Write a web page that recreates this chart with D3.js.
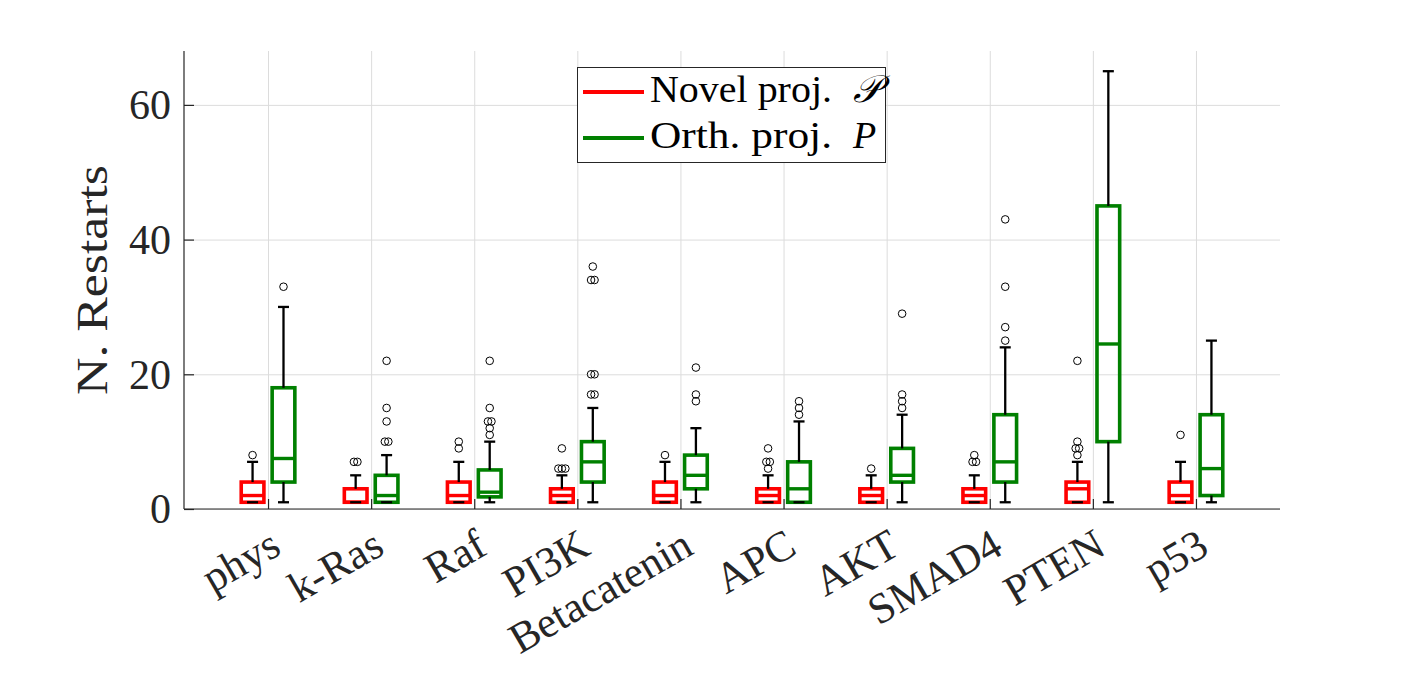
<!DOCTYPE html>
<html>
<head>
<meta charset="utf-8">
<script src="https://cdnjs.cloudflare.com/ajax/libs/d3/7.8.5/d3.min.js"></script>
<style>
  body { margin: 0; background: #fff; }
  text { font-family: "Liberation Serif", "DejaVu Serif", serif; fill: #262626; }
</style>
</head>
<body>
<div id="chart"></div>
<script>
var categories = ["phys", "k-Ras", "Raf", "PI3K", "Betacatenin", "APC", "AKT", "SMAD4", "PTEN", "p53"];

// Novel projection (red)
var novelLow    = [1, 1, 1, 1, 1, 1, 1, 1, 1, 1];
var novelQ1     = [1, 1, 1, 1, 1, 1, 1, 1, 1, 1];
var novelMedian = [2, 1, 2, 2, 2, 2, 2, 2, 3, 2];
var novelQ3     = [4, 3, 4, 3, 4, 3, 3, 3, 4, 4];
var novelHigh   = [7, 5, 7, 5, 7, 5, 5, 5, 7, 7];
var novelOutliers = [[8], [7, 7], [9, 10], [6, 6, 6, 9], [8], [6, 7, 7, 9], [6], [7, 7, 8], [8, 9, 9, 10, 22], [11]];

// Orthogonal projection (green)
var orthLow    = [1, 1, 1, 1, 1, 1, 1, 1, 1, 1];
var orthQ1     = [4, 1, 1.8, 4, 3, 1, 4, 4, 10, 2];
var orthMedian = [7.5, 2, 2.5, 7, 5, 3, 5, 7, 24.5, 6];
var orthQ3     = [18, 5, 5.8, 10, 8, 7, 9, 14, 45, 14];
var orthHigh   = [30, 8, 10, 15, 12, 13, 14, 24, 65, 25];
var orthOutliers = [[33], [10, 10, 13, 15, 22], [11, 12, 13, 13, 15, 22], [17, 17, 20, 20, 34, 34, 36], [16, 17, 21], [14, 15, 16], [15, 16, 17, 29], [25, 27, 33, 43], [], []];

var yTicks = [0, 20, 40, 60];
var seriesNames = ["Novel proj.", "Orth. proj."];
var seriesSymbols = ["\uD835\uDCAB", "P"];
var seriesColors = ["#ff0000", "#008000"];

var w = 1415, h = 674;
var axLeft = 184, axRight = 1280, axTop = 51, axBottom = 509;

var svg = d3.select("#chart")
    .append("svg")
    .attr("width", w)
    .attr("height", h);

var xScale = d3.scaleLinear()
    .domain([0.185, categories.length + 0.815])
    .range([axLeft, axRight]);

var yScale = d3.scaleLinear()
    .domain([0, 68])
    .range([axBottom, axTop]);

var unit = xScale(2) - xScale(1);
var offsets = [-0.15, 0.15];
var boxW = 0.22 * unit;
var capW = 0.107 * unit;

function buildSeries(low, q1, med, q3, high, outl) {
    return categories.map(function(c, i) {
        return {cat: c, i: i, low: low[i], q1: q1[i], med: med[i], q3: q3[i], high: high[i], out: outl[i]};
    });
}
var series = [
    buildSeries(novelLow, novelQ1, novelMedian, novelQ3, novelHigh, novelOutliers),
    buildSeries(orthLow, orthQ1, orthMedian, orthQ3, orthHigh, orthOutliers)
];

// grid
svg.append("g")
    .attr("class", "grid")
    .attr("transform", "translate(0," + axBottom + ")")
    .call(d3.axisBottom(xScale)
        .tickValues(d3.range(1, categories.length + 1))
        .tickSize(-(axBottom - axTop))
        .tickFormat(""))
    .call(function(g) { g.select(".domain").remove(); });

svg.append("g")
    .attr("class", "grid")
    .attr("transform", "translate(" + axLeft + ",0)")
    .call(d3.axisLeft(yScale)
        .tickValues(yTicks)
        .tickSize(-(axRight - axLeft))
        .tickFormat(""))
    .call(function(g) { g.select(".domain").remove(); });

// boxes
series.forEach(function(data, s) {
    var col = seriesColors[s];
    var g = svg.append("g").attr("class", "series" + s);
    var cx = function(d) { return xScale(d.i + 1 + offsets[s]); };

    g.selectAll("rect")
        .data(data)
        .enter()
        .append("rect")
        .attr("x", function(d) { return cx(d) - boxW / 2; })
        .attr("y", function(d) { return yScale(d.q3); })
        .attr("width", boxW)
        .attr("height", function(d) { return yScale(d.q1) - yScale(d.q3); })
        .attr("fill", "none")
        .attr("stroke", col)
        .attr("stroke-width", 3.6);

    g.selectAll("line.med")
        .data(data)
        .enter()
        .append("line")
        .attr("class", "med")
        .attr("x1", function(d) { return cx(d) - boxW / 2; })
        .attr("x2", function(d) { return cx(d) + boxW / 2; })
        .attr("y1", function(d) { return yScale(d.med); })
        .attr("y2", function(d) { return yScale(d.med); })
        .attr("stroke", col)
        .attr("stroke-width", 3.4);

    // whiskers
    var wh = g.selectAll("g.wh")
        .data(data)
        .enter()
        .append("g")
        .attr("class", "wh")
        .attr("stroke", "#000")
        .attr("stroke-width", 2.3);
    wh.append("line")
        .attr("x1", cx).attr("x2", cx)
        .attr("y1", function(d) { return yScale(d.q3); })
        .attr("y2", function(d) { return yScale(d.high); });
    wh.append("line")
        .attr("x1", cx).attr("x2", cx)
        .attr("y1", function(d) { return yScale(d.q1); })
        .attr("y2", function(d) { return yScale(d.low); });
    wh.append("line")
        .attr("x1", function(d) { return cx(d) - capW / 2; })
        .attr("x2", function(d) { return cx(d) + capW / 2; })
        .attr("y1", function(d) { return yScale(d.high); })
        .attr("y2", function(d) { return yScale(d.high); });
    wh.append("line")
        .attr("x1", function(d) { return cx(d) - capW / 2; })
        .attr("x2", function(d) { return cx(d) + capW / 2; })
        .attr("y1", function(d) { return yScale(d.low); })
        .attr("y2", function(d) { return yScale(d.low); });

    // outliers, equal values spread a little sideways
    var pts = [];
    data.forEach(function(d) {
        var counts = d3.rollup(d.out, function(v) { return v.length; }, function(v) { return v; });
        var seen = new Map();
        d.out.forEach(function(v) {
            var n = counts.get(v), k = seen.get(v) || 0;
            seen.set(v, k + 1);
            pts.push({x: cx(d) + (k - (n - 1) / 2) * 3.5, v: v});
        });
    });
    g.selectAll("circle")
        .data(pts)
        .enter()
        .append("circle")
        .attr("cx", function(p) { return p.x; })
        .attr("cy", function(p) { return yScale(p.v); })
        .attr("r", 3.8)
        .attr("fill", "none")
        .attr("stroke", "#000")
        .attr("stroke-width", 1);
});

// axes
var yAxis = svg.append("g")
    .attr("class", "axis")
    .attr("transform", "translate(" + axLeft + ",0)")
    .call(d3.axisRight(yScale).tickValues(yTicks).tickSize(10).tickFormat(""));
yAxis.select(".domain").attr("d", "M0," + axTop + "V" + axBottom);

var xAxis = svg.append("g")
    .attr("class", "axis")
    .attr("transform", "translate(0," + axBottom + ")")
    .call(d3.axisTop(xScale).tickValues(d3.range(1, categories.length + 1)).tickSize(10).tickFormat(""));
xAxis.select(".domain").attr("d", "M" + axLeft + ",0H" + axRight);

svg.selectAll(".axis .domain, .axis .tick line").attr("stroke", "#262626").attr("stroke-width", 1.2);
svg.selectAll(".grid .tick line").attr("stroke", "#dcdcdc").attr("stroke-width", 1);

svg.selectAll("text.ytick")
    .data(yTicks)
    .enter()
    .append("text")
    .attr("class", "ytick")
    .attr("x", 171)
    .attr("y", function(d) { return yScale(d); })
    .attr("dy", "0.34em")
    .attr("text-anchor", "end")
    .style("font-size", "42px")
    .text(function(d) { return d; });

svg.selectAll("text.xtick")
    .data(categories)
    .enter()
    .append("text")
    .attr("class", "xtick")
    .attr("transform", function(d, i) { return "translate(" + (xScale(i + 1) + 15) + ",553) rotate(-30)"; })
    .attr("text-anchor", "end")
    .style("font-size", "43px")
    .text(function(d) { return d; });

svg.append("text")
    .attr("transform", "translate(107," + ((axTop + axBottom) / 2) + ") rotate(-90)")
    .attr("text-anchor", "middle")
    .attr("textLength", 230)
    .attr("lengthAdjust", "spacingAndGlyphs")
    .style("font-size", "44px")
    .text("N. Restarts");

// legend
var leg = svg.append("g");
leg.append("rect")
    .attr("x", 577.5).attr("y", 67.5)
    .attr("width", 308).attr("height", 95)
    .attr("fill", "#fff")
    .attr("stroke", "#262626")
    .attr("stroke-width", 1);
var legY = [92, 138];
seriesNames.forEach(function(name, s) {
    leg.append("line")
        .attr("x1", 583).attr("x2", 644)
        .attr("y1", legY[s]).attr("y2", legY[s])
        .attr("stroke", seriesColors[s])
        .attr("stroke-width", 3.8);
    leg.append("text")
        .attr("x", 650).attr("y", legY[s] + 10)
        .attr("textLength", 182)
        .attr("lengthAdjust", "spacingAndGlyphs")
        .style("font-size", "38px")
        .style("fill", "#000")
        .text(name);
    leg.append("text")
        .attr("x", 853).attr("y", legY[s] + 10)
        .style("font-size", "38px")
        .style("font-style", "italic")
        .style("fill", "#000")
        .text(seriesSymbols[s]);
});
</script>
</body>
</html>
